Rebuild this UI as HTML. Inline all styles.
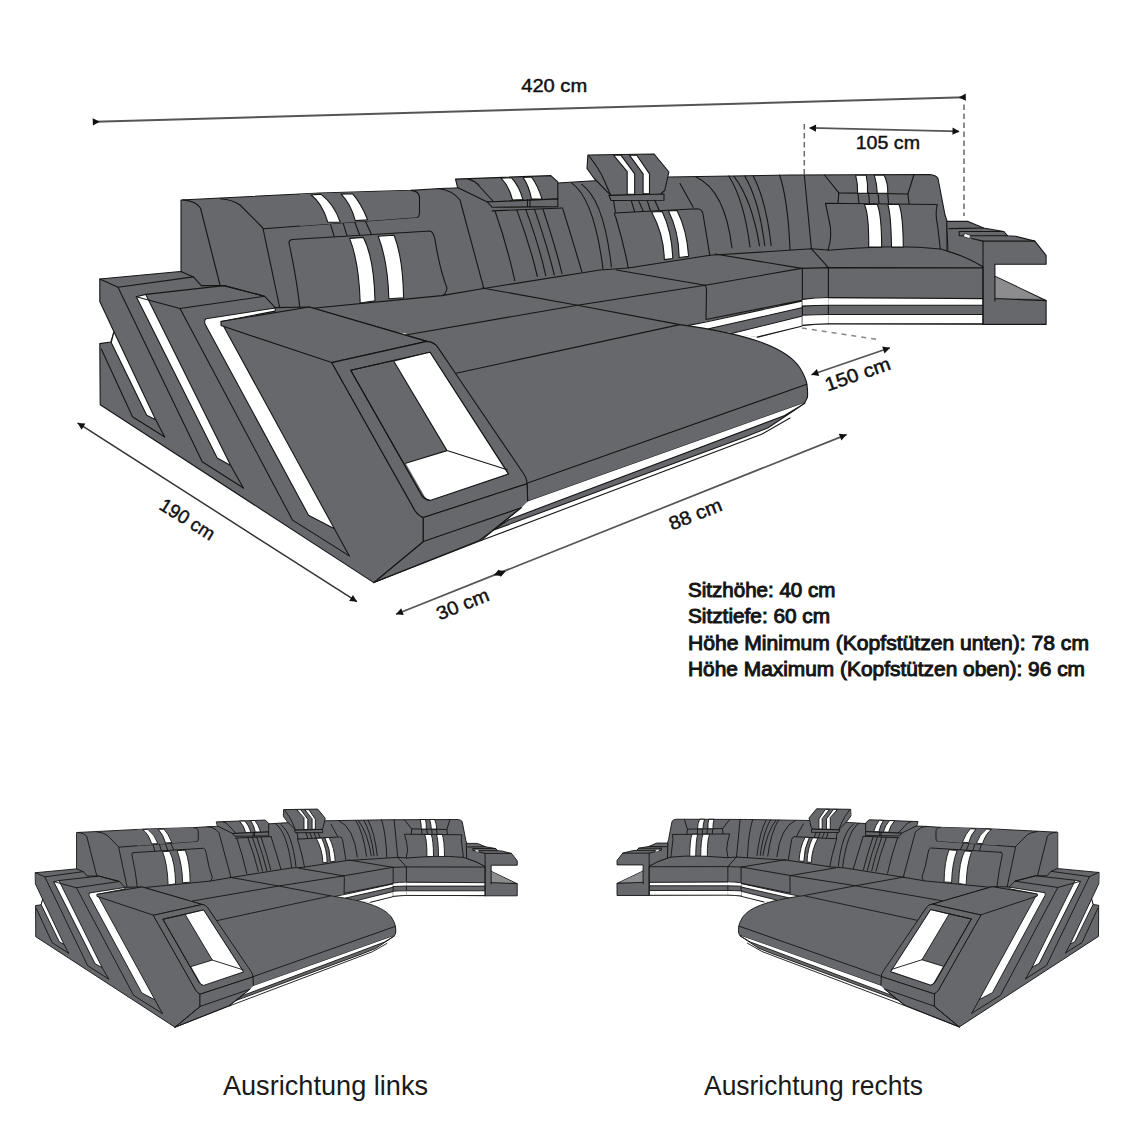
<!DOCTYPE html>
<html><head><meta charset="utf-8">
<style>
html,body{margin:0;padding:0;background:#fff;}
body{width:1134px;height:1134px;overflow:hidden;position:relative;}
svg{position:absolute;left:0;top:0;}
text{-webkit-font-smoothing:antialiased;}
</style></head>
<body>
<svg width="1134" height="1134" viewBox="0 0 1134 1134">
<defs>
<g id="sofa" stroke="#161616" stroke-linejoin="round" stroke-linecap="round" fill="#67686b">
<!-- BACK -->
<path d="M181,200 L320,193 L411,190.4 L440,188.5 L455,188 L558,183 L590,181 L668,177 L790,175 L929.4,174.5 Q936,175 938,178.5 L945,215 L947,221 L947,262 L181,330 Z"/>
<g fill="none">
<path d="M183,199.9 Q196,201 200.5,208 L220,285"/>
<path d="M220.5,198.8 Q233,200 240,205 L262.9,228 L280,309"/>
<path d="M263.5,228.8 L417.4,217.2"/>
<path d="M438,188.5 Q452,190 460,200 L483.7,288"/>
<path d="M495,211 Q507,245 514.8,280.7"/>
<path d="M516.9,210.1 Q530,245 537.4,276.5"/>
<path d="M526,210.1 Q539,245 545.8,275.8"/>
<path d="M534.5,209.4 Q547,245 554.3,275"/>
<path d="M543,209.4 Q555,245 562,273.6"/>
<path d="M562.7,208.7 Q574,245 581.8,271.5"/>
<path d="M571.2,182.6 Q594,198 603,269"/>
<path d="M581.7,184.4 Q604,200 611.4,267"/>
<path d="M696,177 Q725,190 732,248"/>
<path d="M680,183.5 L693.2,207.3"/>
<path d="M728.8,176 Q744,200 750,246.9"/>
<path d="M734,176.4 Q752,200 759.5,245.8"/>
<path d="M744.7,176 Q759,200 764.8,245.8"/>
<path d="M753.2,176 Q766,200 771.2,245.8"/>
<path d="M779.6,175 Q788,200 790,250"/>
<path d="M804.3,175 L811.4,248.8"/>
<path d="M824.5,175 L838.8,192.9 L907.9,194 L913.8,175"/>
<path d="M838.8,192.9 L838,203.6 M907.9,194 L909,203.6"/>
<path d="M857.9,192.9 L859,203.6 M868.5,192.9 L869.5,203.6 M878,192.9 L879,203.6 M887.6,192.9 L888.6,203.6"/>
</g>
<!-- headrest 1 cap -->
<path d="M300,194 L411,190.4 Q419.5,191 419.5,198 L419.5,213 Q419,217 417.4,217.2 L300,226 Z" stroke="none"/>
<path fill="none" d="M411,190.4 Q419.5,191 419.5,198 L419.5,213 Q419,217 417.4,217.2"/>
<g fill="#fff">
<path d="M311.1,195 Q322,203 327.9,222.3 L340.2,222 Q334,204 320.8,194.1 Z"/>
<path d="M341.1,194.1 Q351,204 355.2,220.6 L367.6,219.7 Q361,203 352.6,193.8 Z"/>
</g>
<path fill="none" d="M330.6,224.7 L334.8,238.4 M343.3,223.6 L347.5,237.4 M354.9,222.5 L360.2,236.3 M365.5,221.5 L371.9,235.2"/>
<!-- headrest 2 -->
<path d="M455.5,179.1 L550.8,175.6 L557.8,181.9 L557.8,199 L487.3,202 L457.6,187.6 Z"/>
<path fill="none" d="M468.2,179.1 Q476,181 480,187 L492.9,201"/>
<g fill="#fff">
<path d="M501,178.1 Q509,186 512.5,200 L523,199.6 Q519,186 511.5,177.7 Z"/>
<path d="M523,177.4 Q529,186 531.5,199.1 L542,198.9 Q538,186 531.5,177 Z"/>
</g>
<path d="M487.3,202 L557.8,198.9 L557.8,206.6 L492.2,207.3 Z"/>
<path fill="none" d="M527.5,199.5 L527.5,206.5 M530,199.5 L530,206.5 M492.2,210.9 L562.7,208"/>
<!-- headrest 3 -->
<path d="M587.9,155 L654.1,154 L668.9,172 L664.7,190.5 L660.4,194.2 L610.7,195.3 L593.8,178 L587,168.5 Z"/>
<path fill="none" d="M589,156 Q600,170 604,180 L610.7,195.3"/>
<g fill="#fff">
<path d="M613.5,155.2 L620.9,155.2 L634.7,173.9 L634.7,194 L627.2,194.2 L627.2,171.7 Z"/>
<path d="M629.4,155.2 L636.8,155.2 L649.5,173.9 L649.5,193.5 L643.1,193.7 L643.1,173.9 Z"/>
</g>
<path d="M609,195.5 L664,194 L664,200.3 L611,200.5 Z"/>
<path fill="none" d="M613.5,200.5 L615.6,213 M631.5,201.4 L634.7,212 M638.9,201.4 L643.1,211 M647.4,201 L650.5,211 M654.8,200.3 L659,210"/>
<!-- upper stripes right -->
<g fill="#fff">
<path d="M855.7,175.3 Q858,184 857.6,193.2 L867.5,193.2 Q868,183 866.2,175.3 Z"/>
<path d="M874.3,175.1 Q877,184 877.3,193.2 L887.8,193.2 Q888,183 884.1,175.1 Z"/>
</g>
<!-- SEATS -->
<path stroke="none" d="M279.4,308 L300,309.5 L441.7,295.6 L483.7,288.5 L600,270 L628,268 L709.8,255.3 L811.4,248.8 L947.9,251.2 Q965,256 983,266.7 L983,325 L829,324 L802,326 L759,337.5 L680,324.6 L457,374 L405.8,333.5 L300,320 Z"/>
<g fill="none">
<path d="M279.4,308 L300,309.5"/>
<path d="M441.7,295.6 L483.7,288.5 L600,270 L628,268"/>
<path d="M709.8,255.3 L811.4,248.8 L828,250"/>
<path d="M940,248.8 L947.9,251.2 Q970,258 983,266.7"/>
<path d="M405.8,335 L577.5,305.2 L705.2,285.2 L801.6,268.4 L828.4,267.6 L982.9,267.9"/>
<path d="M482,288 L577.5,305.2 L679.8,324.6"/>
<path d="M616.4,270 L705.2,285.2"/>
<path d="M715,254 L801.6,268.4"/>
<path d="M811.4,248.8 L828.4,267.6"/>
<path d="M705.2,285.2 Q706.5,287 706.5,290 L706,318.7"/>
<path d="M802.4,268.4 L802.4,325.4"/>
<path d="M828.4,267.6 L828.4,323.7"/>
</g>
<!-- seat base LED -->
<g stroke="none" fill="#fff">
<path d="M688.5,325.4 L704.4,322 L801.6,301.1 L801.6,307.8 L708.6,328.8 L704.4,328.8 Z"/>
<path d="M730.4,333.8 L801.6,316.2 L801.6,326.2 L757.2,337.1 Z"/>
<path d="M802.4,299.4 Q815,297.5 828.4,297 L828.4,305 Q815,305.5 802.4,306.1 Z"/>
<path d="M802.4,315.3 Q815,314.5 828.4,314 L828.4,323.7 Q815,324 802.4,325 Z"/>
<path d="M828.4,298.6 L982.9,298.6 L982.9,305.3 L828.4,305.3 Z"/>
<path d="M828.4,314.5 L982.9,314.5 L982.9,323.7 L828.4,323.7 Z"/>
</g>
<g fill="none">
<path d="M706,319.5 L801.6,300.3 M688.5,325.4 L706,322 L801.6,301.1"/>
<path d="M708.6,328.8 L801.6,307.8 M730.4,333.8 L801.6,316.2 M757.2,337.1 L801.6,326.2"/>
<path d="M802.4,299.4 Q815,297.5 828.4,297.5 L982.9,298.6 M802.4,306.1 Q815,305.5 828.4,305.3 L982.9,305.3"/>
<path d="M802.4,315.3 Q815,314.5 828.4,314.5 L982.9,314.5 M802.4,325.4 Q815,324 828.4,323.7 L982.9,323.9"/>
</g>
<!-- PILLOWS -->
<path d="M292,239.5 L430,231 Q434,232 435.3,241.6 Q440,270 447,288 Q446,295 441.7,295.6 L300,309.5 Q297,280 289,243 Q289,240 292,239.5 Z"/>
<g fill="#fff">
<path d="M349.6,238.4 Q359,262 360.2,303 L375,300.8 Q374,258 363.4,237.4 Z"/>
<path d="M378.2,236.3 Q388,262 388.8,298.7 L403.6,297.7 Q403,258 394.1,235.2 Z"/>
</g>
<path d="M614.6,213 L697.1,208.8 Q702,209 703,214 L709.8,255.3 L628.3,268 Q624,245 616,218 Q614,214 614.6,213 Z"/>
<g fill="#fff">
<path d="M651.6,212 Q664,235 664.3,259.6 L672.8,258.5 Q672,232 662.2,211.5 Z"/>
<path d="M668.5,210.9 Q679,232 679.1,257.5 L688.6,256.4 Q687,230 677,210.5 Z"/>
</g>
<path d="M825.5,203.3 L937.2,204.5 Q935,215 937.5,225 L940.3,249 Q912,246 881.7,247 Q855,248 828,250.2 Q833,235 829,220 Z"/>
<g fill="#fff">
<path d="M864.4,204.5 Q869,214 868.7,247.1 L881.7,247.1 Q881.5,214 877.3,204.5 Z"/>
<path d="M887.8,204.5 Q891,214 891.5,247.1 L903.3,247.1 Q903,214 899,204.5 Z"/>
</g>
<!-- RIGHT END TABLE -->
<path d="M946.7,221.4 L968.1,221.4 L983.6,228 L1003.8,231.5 L1007.4,235.7 L1015.7,236.3 L1034.8,241.1 L1046.1,255.4 L1046.1,264.3 L994.9,264.3 L994.9,276.2 L1046.1,300.6 L1046.1,324.4 L983,324.4 L983,266.7 Q965,256 947.9,251.2 Z"/>
<path fill="#8c8c8e" d="M994.9,276.5 L1040,298.5 L994.9,298.5 Z" stroke="none"/>
<g fill="none">
<path d="M949,228.6 L983.6,228"/>
<path d="M959.2,231.5 L1003.8,231.5 M959.2,231.5 L959.2,235.7 L1007.4,235.7"/>
<path d="M971.7,238.5 L983,241.1 L1034.8,241.1"/>
<path d="M983,241.1 L983,324.4"/>
<path d="M994.9,298.5 L1046.1,300.6 M994.9,276.2 L994.9,301"/>
</g>
<path d="M965,233.5 L970.5,235.5 L969.5,238.5 L963.5,236.5 Z" fill="#fff" stroke-width="0.6"/>
<!-- ARMS -->
<path d="M99.8,279 L177.5,271.7 L181,271.5 L193.4,276.9 L201.3,285.6 L224,285.6 L264.6,296.2 L275.2,307.6 L309.2,307 L426.9,341.4 Q434,343 437.5,347 L526.4,478.1 Q528,485 527.4,500.9 Q527,504 522.5,506.6 L492.8,530.5 L478.7,540.8 L373.8,582.6 L100.2,404.7 L99.8,343.6 L110.9,342 L114,331.7 L99.8,301.5 Z"/>
<g fill="#fff">
<path d="M114,331.7 L155.7,419.7 L146.7,415.2 L111.2,342.5 Z"/>
<path d="M136.3,296.7 L145.8,294.4 L230.7,465.5 L217.2,458 Z"/>
<path d="M206,318.8 L275.2,308 L275.2,311.1 L221,321.5 L334.4,528.8 L308.5,515.2 L205,324 Q204,320 206,318.8 Z"/>
</g>
<g fill="none">
<path d="M99.8,279 L118,287.2 L193.4,276.9"/>
<path d="M145.8,294.4 L224,285.6 L264.6,296.2 L180,308.5 L136.3,296.7"/>
<path d="M118,287.2 L202.2,461.7 L243.4,488"/>
<path d="M101.3,349.1 L132.5,416.7 L164.7,437"/>
<path d="M180,308.5 L292.5,520.1 L349.3,555.9"/>
<path d="M155.7,419.7 L164.7,437 M230.7,465.5 L243.4,488 M334.4,528.8 L349.3,555.9"/>
</g>
<!-- chaise armrest top face -->
<path d="M221,321.5 L309.2,307 L426.9,341.4 L331.7,362.6 L221,325.6 Z"/>
<path fill="none" d="M331.7,362.6 L415.2,511 Q419,516 423.3,517.6 L423.3,541.6 L373.8,582.6"/>
<!-- SEAT 1 left edge & chaise top -->
<path stroke="none" d="M437.5,347 L456,373.2 L679.8,324.6 C740,333 785,345 800,368 Q806,378 806.9,384.3 L807.4,397.5 L527.4,500.9 Z"/>
<path fill="none" d="M456,373.2 L679.8,324.6 C740,333 785,345 800,368 Q806,378 806.9,384.3"/>
<!-- armrest front frame -->
<path d="M331.7,362.6 L426.9,341.4 Q434,342 437.5,347 L522.8,472.5 Q527,478 527,483.7 L423.3,517.6 Q419,516 415.2,511 Z"/>
<path d="M350.7,370.2 L430,352.2 L508.4,473.9 L430,500.4 Q424,499 421.6,495.1 Z"/>
<path fill="#fff" d="M394.1,361.7 L430,352.2 L508.4,473.9 L431.1,500.4 Q427,500 425,497 L405.7,463.3 L447,450.6 Z" stroke="none"/>
<path fill="none" d="M394.1,361.7 L447,450.6 L507.3,469.7 M405.7,463.3 L447,450.6"/>
<path fill="none" d="M350.7,370.2 L430,352.2 L508.4,473.9 L430,500.4 Q424,499 421.6,495.1 Z"/>
<!-- chaise front face -->
<path d="M527,483.2 L806.9,384.3 Q808,392 807.4,397.5 L804.8,402.8 L527.7,501.5 Z"/>
<path d="M423.3,517.6 L527,483.7 L527.7,502.1 Q527,506 521.3,507.7 L423.3,541.6 Z"/>
<path fill="#fff" stroke="none" d="M508.6,519.7 L521.3,507.7 L527.7,501.5 L804.8,402.8 L784.7,415.5 Z"/>
<path d="M508.6,519.7 L784.7,415.5 L804.8,403.3 L767.7,428 L744.4,437.3 L493.1,530.3 Z"/>
<path fill="none" d="M481,540.6 L761.6,434.3 L790,418"/>
<path fill="none" d="M521.3,507.7 L493.1,530.3 L481,540.6 M373.8,582.6 L481,540.6 M373.8,582.6 L423.3,541.6"/>
</g>

</defs>
<use href="#sofa" stroke-width="1.1"/>
<use href="#sofa" stroke-width="1.8" transform="translate(-15.25,730.7) scale(0.509)"/>
<use href="#sofa" stroke-width="1.8" transform="translate(1149.5,730.4) scale(-0.509,0.509)"/>
<line x1="95" y1="121.8" x2="965" y2="97.2" stroke="#555" stroke-width="2"/>
<path d="M99.8,121.7 L92.9,125.5 L92.7,118.3 Z" fill="#111" stroke="none"/>
<path d="M958.8,97.4 L965.7,93.6 L965.9,100.8 Z" fill="#111" stroke="none"/>
<line x1="810" y1="127.9" x2="959" y2="131.4" stroke="#555" stroke-width="1.7"/>
<path d="M809.0,127.9 L816.1,124.5 L815.9,131.7 Z" fill="#111" stroke="none"/>
<path d="M959.5,131.4 L952.4,134.8 L952.6,127.6 Z" fill="#111" stroke="none"/>
<line x1="804.3" y1="124" x2="804.3" y2="175" stroke="#6a6a6a" stroke-width="1.5" stroke-dasharray="5.5,3.5"/>
<line x1="964" y1="104.6" x2="964" y2="216" stroke="#6a6a6a" stroke-width="1.5" stroke-dasharray="5.5,3.5"/>
<line x1="811.4" y1="374.8" x2="890" y2="347.8" stroke="#555" stroke-width="1.7"/>
<path d="M811.4,374.8 L816.9,369.1 L819.2,376.0 Z" fill="#111" stroke="none"/>
<path d="M890.0,347.8 L884.5,353.5 L882.2,346.6 Z" fill="#111" stroke="none"/>
<line x1="801.9" y1="327.9" x2="879.7" y2="339.8" stroke="#888" stroke-width="1.5" stroke-dasharray="5,5"/>
<line x1="77.6" y1="422.9" x2="357" y2="601.7" stroke="#333" stroke-width="1.5"/>
<path d="M77.6,422.9 L85.4,423.6 L81.6,429.7 Z" fill="#111" stroke="none"/>
<path d="M357.0,601.7 L349.2,601.0 L353.0,594.9 Z" fill="#111" stroke="none"/>
<line x1="396" y1="614.2" x2="846.6" y2="434.6" stroke="#555" stroke-width="1.7"/>
<path d="M396.0,614.2 L401.2,608.3 L403.8,615.0 Z" fill="#111" stroke="none"/>
<path d="M493.6,575.3 L498.8,569.4 L501.4,576.1 Z" fill="#111" stroke="none"/>
<path d="M505.9,571.0 L500.7,576.9 L498.1,570.2 Z" fill="#111" stroke="none"/>
<path d="M846.6,434.6 L841.4,440.5 L838.8,433.8 Z" fill="#111" stroke="none"/>
<text stroke="#111" stroke-width="0.45" x="521.2" y="92.3" font-family='"Liberation Sans", sans-serif' font-size="18.5" font-weight="normal" fill="#111" textLength="66" lengthAdjust="spacingAndGlyphs">420 cm</text>
<text stroke="#111" stroke-width="0.45" x="855.7" y="148.9" font-family='"Liberation Sans", sans-serif' font-size="19" font-weight="normal" fill="#111" textLength="64.3" lengthAdjust="spacingAndGlyphs">105 cm</text>
<text stroke="#111" stroke-width="0.45" x="0" y="0" transform="translate(827.5,391.5) rotate(-19.23)" font-family='"Liberation Sans", sans-serif' font-size="19" font-weight="normal" fill="#111" textLength="68.3" lengthAdjust="spacingAndGlyphs">150 cm</text>
<text stroke="#111" stroke-width="0.45" x="0" y="0" transform="translate(158.0,508.5) rotate(32.01)" font-family='"Liberation Sans", sans-serif' font-size="19" font-weight="normal" fill="#111" textLength="61.3" lengthAdjust="spacingAndGlyphs">190 cm</text>
<text stroke="#111" stroke-width="0.45" x="0" y="0" transform="translate(672.0,530.5) rotate(-21.71)" font-family='"Liberation Sans", sans-serif' font-size="19" font-weight="normal" fill="#111" textLength="55.4" lengthAdjust="spacingAndGlyphs">88 cm</text>
<text stroke="#111" stroke-width="0.45" x="0" y="0" transform="translate(439.5,620.5) rotate(-21.90)" font-family='"Liberation Sans", sans-serif' font-size="19" font-weight="normal" fill="#111" textLength="55.0" lengthAdjust="spacingAndGlyphs">30 cm</text>
<text stroke="#151515" stroke-width="0.95" x="688" y="596.9" font-family='"Liberation Sans", sans-serif' font-size="19.6" font-weight="normal" fill="#151515" textLength="147.4" lengthAdjust="spacingAndGlyphs">Sitzhöhe: 40 cm</text>
<text stroke="#151515" stroke-width="0.95" x="688" y="623.4" font-family='"Liberation Sans", sans-serif' font-size="19.6" font-weight="normal" fill="#151515" textLength="142" lengthAdjust="spacingAndGlyphs">Sitztiefe: 60 cm</text>
<text stroke="#151515" stroke-width="0.95" x="688" y="649.9" font-family='"Liberation Sans", sans-serif' font-size="19.6" font-weight="normal" fill="#151515" textLength="401" lengthAdjust="spacingAndGlyphs">Höhe Minimum (Kopfstützen unten): 78 cm</text>
<text stroke="#151515" stroke-width="0.95" x="688" y="676.4" font-family='"Liberation Sans", sans-serif' font-size="19.6" font-weight="normal" fill="#151515" textLength="397" lengthAdjust="spacingAndGlyphs">Höhe Maximum (Kopfstützen oben): 96 cm</text>
<text stroke="#1a1a1a" stroke-width="0" x="222.9" y="1094.7" font-family='"Liberation Sans", sans-serif' font-size="27.6" font-weight="normal" fill="#1a1a1a" textLength="205.2" lengthAdjust="spacingAndGlyphs">Ausrichtung links</text>
<text stroke="#1a1a1a" stroke-width="0" x="704" y="1094.7" font-family='"Liberation Sans", sans-serif' font-size="27.6" font-weight="normal" fill="#1a1a1a" textLength="219" lengthAdjust="spacingAndGlyphs">Ausrichtung rechts</text>
</svg>
</body></html>
